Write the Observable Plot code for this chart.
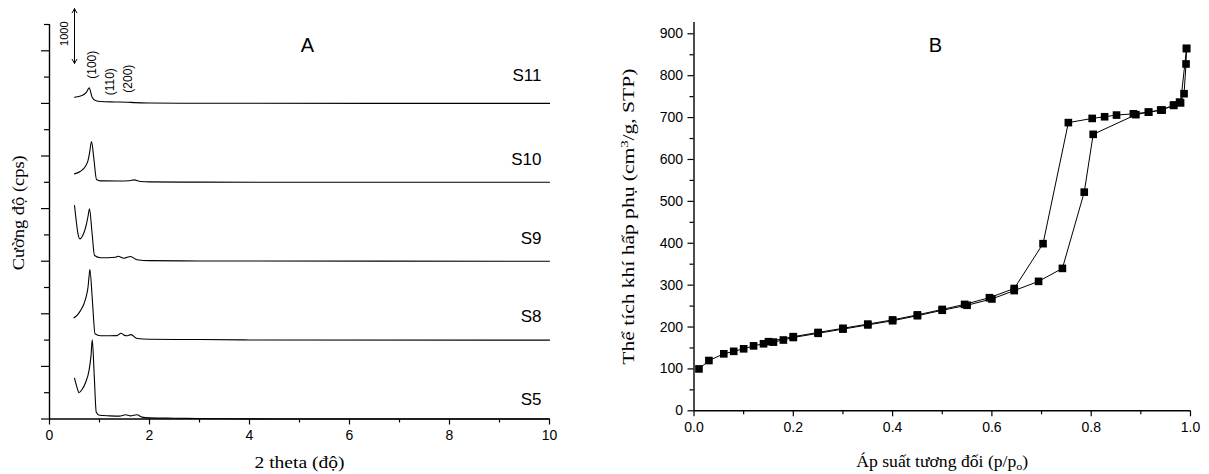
<!DOCTYPE html>
<html><head><meta charset="utf-8">
<script src="https://cdn.jsdelivr.net/npm/d3@7"></script>
<script src="https://cdn.jsdelivr.net/npm/@observablehq/plot@0.6"></script>
<style>
body{margin:0;background:#fff;}
#wrap{position:relative;width:1209px;height:474px;overflow:hidden;background:#fff;}
#left{position:absolute;left:0;top:0;}
#right{position:absolute;left:600px;top:0;}
svg{overflow:visible;}
</style></head><body>
<div id="wrap"><div id="left"></div><div id="right"></div></div>
<script>
// ---------- Panel A: XRD patterns ----------
const sampleNames   = ["S5", "S8", "S9", "S10", "S11"];
const sampleOffsets = [0, 1500, 3000, 4500, 6000];      // cps stacking offsets
const labelCps      = [370, 1950, 3430, 4930, 6530];   // label heights (cps)

const s5Theta = [0.50,0.55,0.59,0.65,0.72,0.79,0.83,0.855,0.895,0.935,1.0,1.2,1.4,1.52,1.62,1.75,1.85,2.0,2.5,3.0,4.0,5.0,10];
const s5Cps   = [775,600,500,560,690,920,1200,1505,820,130,70,60,55,80,60,80,35,22,15,10,3,0,0];

const s8Theta = [0.49,0.55,0.62,0.69,0.74,0.77,0.79,0.807,0.86,0.91,1.02,1.2,1.35,1.43,1.5,1.54,1.63,1.75,2.0,3.0,4.0,10];
const s8Cps   = [424,470,560,690,850,1005,1200,1340,720,120,82,82,85,130,90,82,105,30,15,10,3,0];

const s9Theta = [0.50,0.53,0.57,0.607,0.66,0.74,0.77,0.80,0.85,0.90,1.02,1.32,1.37,1.49,1.62,1.75,2.0,3.0,10];
const s9Cps   = [1058,800,520,425,480,710,850,995,550,108,65,76,95,57,90,27,10,5,0];

const s10Theta = [0.50,0.62,0.72,0.77,0.80,0.84,0.887,0.94,1.02,1.4,1.6,1.69,1.82,2.0,3.0,10];
const s10Cps   = [160,210,306,414,550,775,450,53,28,25,30,47,15,8,3,0];

const s11Theta = [0.50,0.65,0.74,0.793,0.853,0.92,1.02,1.3,1.55,1.7,2.0,3.0,10];
const s11Cps   = [118,150,213,296,118,55,36,28,23,15,8,3,0];

const thetaTicks      = [0, 2, 4, 6, 8, 10];
const thetaMinorTicks = [1, 3, 5, 7, 9];
const cpsMajorTicks   = [0,1000,2000,3000,4000,5000,6000,7000];
const cpsMinorTicks   = [500,1500,2500,3500,4500,5500,6500,7500];

const hklLabels = ["(100)", "(110)", "(200)"];
const hklTheta  = [0.86, 1.22, 1.58];
const hklCps    = [6735, 6412, 6470];

const scaleBarTheta = 0.5;
const scaleBarFrom  = 6760;
const scaleBarTo    = 7800;
const scaleBarText  = "1000";

// ---------- Panel B: N2 isotherm ----------
const adsP = [0.01,0.03,0.06,0.08,0.10,0.12,0.14,0.16,0.18,0.20,0.25,0.30,0.35,0.40,0.45,0.50,0.55,0.60,0.645,0.694,0.742,0.786,0.804,0.89,0.915,0.94,0.966,0.978,0.987,0.991,0.992];
const adsV = [100,120,136,142,148,155,160,164,169,175,185,195,205,215,227,240,252,267,287,309,340,522,660,707,713,718,729,737,757,828,865];

const desP = [0.992,0.98,0.966,0.943,0.916,0.885,0.851,0.827,0.802,0.754,0.703,0.645,0.595,0.545,0.50,0.45,0.40,0.35,0.30,0.25,0.20,0.15];
const desV = [865,735,730,718,713,709,706,702,698,688,399,292,270,254,242,229,217,207,197,187,177,165];

const pTicks      = [0.0, 0.2, 0.4, 0.6, 0.8, 1.0];
const pMinorTicks = [0.1, 0.3, 0.5, 0.7, 0.9];
const vTicks      = [0,100,200,300,400,500,600,700,800,900];
const vMinorTicks = [50,150,250,350,450,550,650,750,850];

// ---------- build tables ----------
const thetaSets = [s5Theta, s8Theta, s9Theta, s10Theta, s11Theta];
const cpsSets   = [s5Cps, s8Cps, s9Cps, s10Cps, s11Cps];
const xrd = [];
sampleNames.forEach((name, i) => {
  thetaSets[i].forEach((t, j) => xrd.push({sample: name, theta: t, y: cpsSets[i][j] + sampleOffsets[i]}));
});
const sampleLabels = sampleNames.map((n, i) => ({name: n, y: labelCps[i]}));
const hkl = hklLabels.map((t, i) => ({t, x: hklTheta[i], y: hklCps[i]}));
const mid = (scaleBarFrom + scaleBarTo) / 2;
const arrows = [
  {x: scaleBarTheta, y1: mid, y2: scaleBarTo},
  {x: scaleBarTheta, y1: mid, y2: scaleBarFrom}
];
const ads = adsP.map((p, i) => ({p, v: adsV[i]}));
const des = desP.map((p, i) => ({p, v: desV[i]}));

const sans = "'Liberation Sans', Arial, Helvetica, sans-serif";
const serif = "'Liberation Serif', 'Times New Roman', serif";

const left = Plot.plot({
  width: 600, height: 474,
  marginLeft: 49, marginRight: 51, marginTop: 24, marginBottom: 55.5,
  x: {domain: [0, 10]},
  y: {domain: [0, 7500]},
  style: {fontFamily: sans, fontSize: "14px", background: "white", color: "black", overflow: "visible"},
  marks: [
    Plot.axisX({ticks: thetaTicks, tickSize: 6, tickPadding: 5, label: null, fontSize: 14, strokeWidth: 1.2}),
    Plot.axisX({ticks: thetaMinorTicks, tickSize: 4, text: null, label: null, strokeWidth: 1.2}),
    Plot.axisY({ticks: cpsMajorTicks, tickSize: 8, text: null, label: null, strokeWidth: 1.2}),
    Plot.axisY({ticks: cpsMinorTicks, tickSize: 5, text: null, label: null, strokeWidth: 1.2}),
    Plot.ruleX([0], {strokeWidth: 1.4}),
    Plot.ruleY([0], {strokeWidth: 1.4}),
    Plot.line(xrd, {x: "theta", y: "y", z: "sample", curve: "monotone-x", stroke: "black", strokeWidth: 1.1}),
    Plot.text(sampleLabels, {x: 9.84, y: "y", text: "name", textAnchor: "end", fontSize: 17, fontFamily: sans}),
    Plot.text(hkl, {x: "x", y: "y", text: "t", rotate: -90, fontSize: 12, fontFamily: sans}),
    Plot.text([scaleBarText], {x: 0.3, y: 7325, rotate: -90, fontSize: 11, fontFamily: sans}),
    Plot.arrow(arrows, {x1: "x", x2: "x", y1: "y1", y2: "y2", headLength: 7, strokeWidth: 1, insetStart: 0, insetEnd: 0}),
    Plot.text(["A"], {x: 5.16, y: 7097, fontSize: 20, fontFamily: sans}),
    Plot.text(["2 theta (độ)"], {frameAnchor: "bottom", lineAnchor: "middle", textAnchor: "middle", dy: 44, fontSize: 16, fontFamily: serif, className: "lxtitle"}),
    Plot.text(["Cường độ (cps)"], {frameAnchor: "left", textAnchor: "middle", lineAnchor: "middle", dx: -31, dy: -9, rotate: -90, fontSize: 17, fontFamily: serif, className: "lytitle"})
  ]
});
document.getElementById("left").appendChild(left);

const right = Plot.plot({
  width: 609, height: 474,
  marginLeft: 93.5, marginRight: 19, marginTop: 22, marginBottom: 63.7,
  x: {domain: [0, 1]},
  y: {domain: [0, 927]},
  style: {fontFamily: sans, fontSize: "14px", background: "white", color: "black", overflow: "visible"},
  marks: [
    Plot.axisX({ticks: pTicks, tickFormat: d3.format(".1f"), tickSize: 6, tickPadding: 5, label: null, fontSize: 14, strokeWidth: 1.2}),
    Plot.axisX({ticks: pMinorTicks, tickSize: 4, text: null, label: null, strokeWidth: 1.2}),
    Plot.axisY({ticks: vTicks, tickSize: 6, tickPadding: 5, label: null, fontSize: 14, strokeWidth: 1.2}),
    Plot.axisY({ticks: vMinorTicks, tickSize: 4, text: null, label: null, strokeWidth: 1.2}),
    Plot.ruleX([0], {strokeWidth: 1.4}),
    Plot.ruleY([0], {strokeWidth: 1.4}),
    Plot.line(ads, {x: "p", y: "v", stroke: "black", strokeWidth: 1}),
    Plot.line(des, {x: "p", y: "v", stroke: "black", strokeWidth: 1}),
    Plot.dot(ads, {x: "p", y: "v", symbol: "square", r: 4.3, fill: "black", stroke: "none"}),
    Plot.dot(des, {x: "p", y: "v", symbol: "square", r: 4.3, fill: "black", stroke: "none"}),
    Plot.text(["B"], {x: 0.486, y: 872, fontSize: 20, fontFamily: sans}),
    Plot.text(["Áp suất tương đối (p/po)"], {frameAnchor: "bottom", lineAnchor: "middle", textAnchor: "middle", dy: 51.5, fontSize: 16, fontFamily: serif, className: "xtitle"}),
    Plot.text(["Thể tích khí hấp phụ (cm3/g, STP)"], {frameAnchor: "left", textAnchor: "middle", lineAnchor: "middle", dx: -65.5, dy: 0, rotate: -90, fontSize: 16, fontFamily: serif, className: "ytitle"})
  ]
});
document.getElementById("right").appendChild(right);

// subscript / superscript in axis titles, and stretch titles to the reference lengths
function richText(svg, sel, parts, len) {
  const t = d3.select(svg).select(sel).select("text");
  if (t.empty()) return;
  if (parts) {
    t.text(null);
    parts.forEach(([s, shift, size]) => {
      const sp = t.append("tspan").text(s);
      if (shift) sp.attr("dy", shift);
      if (size) sp.attr("font-size", size);
    });
  }
  if (len) t.attr("textLength", len).attr("lengthAdjust", "spacingAndGlyphs");
}
richText(right, ".xtitle", [["Áp suất tương đối (p/p"], ["o", 3, 11], [")", -3]], 172);
richText(right, ".ytitle", [["Thể tích khí hấp phụ (cm"], ["3", -6, 11], ["/g, STP)", 6]], 296);
richText(left, ".lxtitle", null, 90);
richText(left, ".lytitle", null, 115);
</script>
</body></html>
